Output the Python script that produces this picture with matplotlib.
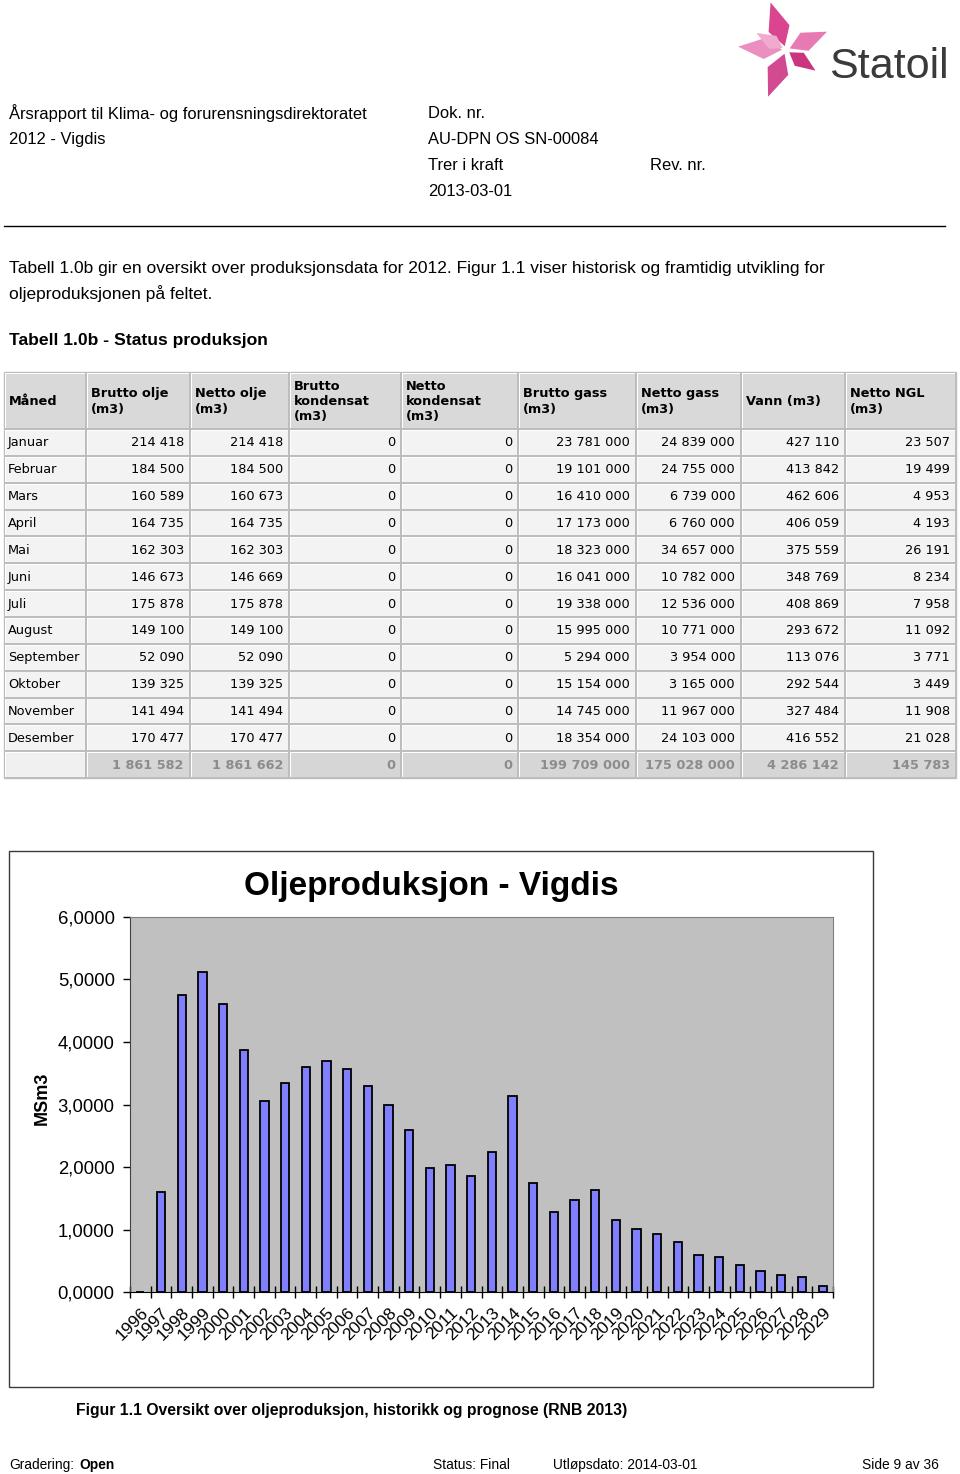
import matplotlib
matplotlib.use("Agg")
import matplotlib.pyplot as plt
from matplotlib.patches import Rectangle, Polygon
import numpy as np

# chart: oil production per year (MSm3)
years = [str(y) for y in range(1996, 2030)]
oil_msm3 = [0.0, 1.60, 4.75, 5.11, 4.61, 3.87, 3.06, 3.34, 3.60, 3.69, 3.57, 3.29,
            3.00, 2.59, 1.98, 2.03, 1.85, 2.24, 3.14, 1.74, 1.29, 1.48, 1.63, 1.16,
            1.01, 0.93, 0.80, 0.59, 0.57, 0.44, 0.34, 0.28, 0.25, 0.10]
y_ticks = [0, 1, 2, 3, 4, 5, 6]

# table 1.0b
months = ["Januar", "Februar", "Mars", "April", "Mai", "Juni", "Juli", "August",
          "September", "Oktober", "November", "Desember"]
brutto_olje = [214418, 184500, 160589, 164735, 162303, 146673, 175878, 149100, 52090, 139325, 141494, 170477]
netto_olje = [214418, 184500, 160673, 164735, 162303, 146669, 175878, 149100, 52090, 139325, 141494, 170477]
brutto_kond = [0] * 12
netto_kond = [0] * 12
brutto_gass = [23781000, 19101000, 16410000, 17173000, 18323000, 16041000, 19338000, 15995000,
               5294000, 15154000, 14745000, 18354000]
netto_gass = [24839000, 24755000, 6739000, 6760000, 34657000, 10782000, 12536000, 10771000,
              3954000, 3165000, 11967000, 24103000]
vann = [427110, 413842, 462606, 406059, 375559, 348769, 408869, 293672, 113076, 292544, 327484, 416552]
netto_ngl = [23507, 19499, 4953, 4193, 26191, 8234, 7958, 11092, 3771, 3449, 11908, 21028]
headers = ["Måned", "Brutto olje\n(m3)", "Netto olje\n(m3)", "Brutto\nkondensat\n(m3)",
           "Netto\nkondensat\n(m3)", "Brutto gass\n(m3)", "Netto gass\n(m3)", "Vann (m3)", "Netto NGL\n(m3)"]

W, H = 960, 1474
fig = plt.figure(figsize=(W / 100, H / 100), dpi=100)
pg = fig.add_axes([0, 0, 1, 1])
pg.set_xlim(0, W)
pg.set_ylim(H, 0)
pg.axis("off")

SANS = "Liberation Sans"
VERD = "DejaVu Sans"


def put(x, y, s, size=11, weight="normal", ha="left", color="black", family=SANS, **kw):
    pg.text(x, y, s, fontsize=size, fontweight=weight, ha=ha, va="center",
            color=color, family=family, **kw)


# ---- page header ----
HS = 11.9
put(9, 113, "Årsrapport til Klima- og forurensningsdirektoratet", HS)
put(9, 139, "2012 - Vigdis", HS)
put(428, 113, "Dok. nr.", HS)
put(428, 139, "AU-DPN OS SN-00084", HS)
put(428, 165, "Trer i kraft", HS)
put(650, 165, "Rev. nr.", HS)
put(428, 191, "2013-03-01", HS)
pg.plot([4, 945], [226, 226], color="black", lw=1)

# logo
cx, cy = 786, 50
petals = [(-108, 50, "#d9468f"), (-24, 45, "#e77ab2"), (35, 36, "#c9357f"),
          (111, 50, "#d24a91"), (184, 48, "#ea8fbf"), (-150, 34, "#f0aacd")]
for ang, ln, col in petals:
    a = np.deg2rad(ang)
    d = np.array([np.cos(a), np.sin(a)])
    n = np.array([-d[1], d[0]])
    c = np.array([cx, cy])
    pts = [c + d * 4, c + d * ln * 0.45 + n * ln * 0.22, c + d * ln, c + d * ln * 0.45 - n * ln * 0.22]
    pg.add_patch(Polygon(pts, closed=True, fc=col, ec="none"))
put(829, 67, "Statoil", 31, color="#3a3a3a")

# ---- intro text ----
put(9, 268, "Tabell 1.0b gir en oversikt over produksjonsdata for 2012. Figur 1.1 viser historisk "
            "og framtidig utvikling for", 12.5)
put(9, 294, "oljeproduksjonen på feltet.", 12.5)
put(9, 340, "Tabell 1.0b - Status produksjon", 12.6, weight="bold")

# ---- table ----
col_edges = [4, 86, 190, 289, 401, 518, 636, 741, 845, 956]
head_top, head_bot = 372, 429
row_h = 26.85
n_rows = len(months)
TS = 9.3


def fmt(v):
    return f"{v:,}".replace(",", " ")


columns = [brutto_olje, netto_olje, brutto_kond, netto_kond, brutto_gass, netto_gass, vann, netto_ngl]
totals = [sum(c) for c in columns]

tab_bot = head_bot + row_h * (n_rows + 1)
pg.add_patch(Rectangle((col_edges[0], head_top), col_edges[-1] - col_edges[0], tab_bot - head_top,
                       fc="#bdbdbd", ec="#bdbdbd", lw=1))


def cell(x0, x1, y0, y1, fc):
    pg.add_patch(Rectangle((x0 + 1.0, y0 + 1.0), x1 - x0 - 2.0, y1 - y0 - 2.0, fc="white", ec="none"))
    pg.add_patch(Rectangle((x0 + 1.8, y0 + 1.8), x1 - x0 - 2.8, y1 - y0 - 2.8, fc=fc, ec="none"))


for j, h in enumerate(headers):
    x0, x1 = col_edges[j], col_edges[j + 1]
    cell(x0, x1, head_top, head_bot, "#d9d9d9")
    put(x0 + 5, (head_top + head_bot) / 2 + 1, h, TS, weight="bold", family=VERD, linespacing=1.22)

for i, m in enumerate(months):
    y0 = head_bot + i * row_h
    yc = y0 + row_h / 2 + 0.5
    cell(col_edges[0], col_edges[1], y0, y0 + row_h, "#f3f3f3")
    put(col_edges[0] + 4, yc, m, TS, family=VERD)
    for j, col in enumerate(columns):
        x0, x1 = col_edges[j + 1], col_edges[j + 2]
        cell(x0, x1, y0, y0 + row_h, "#f3f3f3")
        put(x1 - 6, yc, fmt(col[i]), TS, ha="right", family=VERD)

y0 = head_bot + n_rows * row_h
cell(col_edges[0], col_edges[1], y0, y0 + row_h, "#f0f0f0")
for j, t in enumerate(totals):
    x0, x1 = col_edges[j + 1], col_edges[j + 2]
    cell(x0, x1, y0, y0 + row_h, "#d6d6d6")
    put(x1 - 6, y0 + row_h / 2 + 0.5, fmt(t), TS, weight="bold", ha="right", family=VERD, color="#8c8c8c")

# ---- chart ----
pg.add_patch(Rectangle((9, 851), 864, 536, fc="white", ec="#3a3a3a", lw=1))
put(431, 886, "Oljeproduksjon - Vigdis", 24, weight="bold", ha="center")
put(42, 1098, "MSm3", 13, weight="bold", ha="center", rotation=90)

ax = fig.add_axes([130 / W, (H - 1292.3) / H, 703 / W, 375.6 / H])
ax.set_facecolor("#c0c0c0")
x = np.arange(len(years))
ax.bar(x, oil_msm3, width=0.4, color="#8080ff", edgecolor="black", linewidth=1.3, zorder=3)
ax.set_xlim(-0.5, len(years) - 0.5)
ax.set_ylim(0, 6)
ax.set_yticks(y_ticks)
ax.set_yticklabels([f"{v:.4f}".replace(".", ",") for v in y_ticks], fontsize=13.3, family=SANS)
ax.tick_params(axis="y", direction="out", length=5, width=1, pad=6)
ax.set_xticks(np.arange(-0.5, len(years), 1.0))
ax.set_xticklabels([])
ax.tick_params(axis="x", which="major", direction="inout", length=9, width=1)
ax.set_xticks(x, minor=True)
ax.set_xticklabels(years, minor=True, rotation=45, ha="right", va="top",
                   rotation_mode="anchor", fontsize=12.5, family=SANS)
ax.tick_params(axis="x", which="minor", length=0, pad=9)
for s in ["top", "right"]:
    ax.spines[s].set_color("#808080")
ax.spines["left"].set_color("#404040")
ax.spines["bottom"].set_color("black")

put(76, 1410, "Figur 1.1 Oversikt over oljeproduksjon, historikk og prognose (RNB 2013)", 11.3, weight="bold")

# ---- footer ----
FS = 9.9
put(9, 1465, "Gradering:", FS)
put(79, 1465, "Open", FS, weight="bold")
put(433, 1465, "Status: Final", FS)
put(553, 1465, "Utløpsdato: 2014-03-01", FS)
put(862, 1465, "Side 9 av 36", FS)

fig.savefig("out.png", dpi=100)
